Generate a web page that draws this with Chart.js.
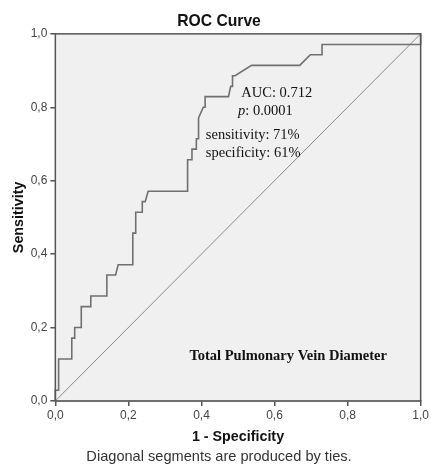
<!DOCTYPE html>
<html>
<head>
<meta charset="utf-8">
<script src="https://cdn.jsdelivr.net/npm/chart.js"></script>
<style>
  html, body { margin: 0; padding: 0; background: #fff; }
  #wrap { width: 432px; height: 474px; }
</style>
</head>
<body>
<div id="wrap"><canvas id="roc-chart"></canvas></div>
<script>
// ROC curve (1 - specificity, sensitivity)
const fprValues = [0, 0, 0.009, 0.009, 0.045, 0.045, 0.053, 0.053, 0.071, 0.071, 0.097, 0.097,
  0.141, 0.141, 0.165, 0.172, 0.212, 0.212, 0.22, 0.22, 0.238, 0.238, 0.246, 0.254,
  0.362, 0.362, 0.374, 0.374, 0.386, 0.386, 0.392, 0.392, 0.405, 0.41, 0.41, 0.474,
  0.48, 0.485, 0.485, 0.492, 0.537, 0.669, 0.698, 0.73, 0.73, 1.0, 1.0];
const tprValues = [0, 0.029, 0.029, 0.114, 0.114, 0.171, 0.171, 0.2, 0.2, 0.257, 0.257, 0.286,
  0.286, 0.343, 0.343, 0.371, 0.371, 0.457, 0.457, 0.514, 0.514, 0.543, 0.543, 0.571,
  0.571, 0.657, 0.657, 0.686, 0.686, 0.714, 0.714, 0.771, 0.8, 0.8, 0.829, 0.829,
  0.857, 0.857, 0.886, 0.886, 0.914, 0.914, 0.943, 0.943, 0.971, 0.971, 1.0];
// reference (chance) line
const refX = [0, 1];
const refY = [0, 1];

const axisTicks = [0, 0.2, 0.4, 0.6, 0.8, 1.0];

// text notes placed in data units: [text, x, y, style]
const notes = [
  ['AUC: 0.712', 0.509, 0.838, 'normal'],
  ['p', 0.5, 0.789, 'italic'],
  ['sensitivity: 71%', 0.412, 0.723, 'normal'],
  ['specificity: 61%', 0.412, 0.676, 'normal'],
  ['Total Pulmonary Vein Diameter', 0.367, 0.123, 'bold']
];

const SANS = '"Liberation Sans", Arial, sans-serif';
const SERIF = '"Liberation Serif", "Times New Roman", serif';

const fmt = v => Number(v).toFixed(1).replace('.', ',');

const frameAndNotes = {
  id: 'frameAndNotes',
  beforeDatasetsDraw(chart) {
    const { ctx, chartArea: a } = chart;
    ctx.save();
    ctx.fillStyle = '#f0f0f0';
    ctx.fillRect(a.left, a.top, a.right - a.left, a.bottom - a.top);
    ctx.restore();
  },
  afterDatasetsDraw(chart) {
    const { ctx, chartArea: a, scales } = chart;
    ctx.save();
    ctx.strokeStyle = '#555';
    ctx.lineWidth = 1.5;
    ctx.strokeRect(a.left, a.top, a.right - a.left, a.bottom - a.top);

    ctx.fillStyle = '#111';
    ctx.textBaseline = 'middle';
    ctx.textAlign = 'left';
    notes.forEach(([text, x, y, style]) => {
      const px = scales.x.getPixelForValue(x);
      const py = scales.y.getPixelForValue(y);
      if (style === 'italic') {
        ctx.font = 'italic 14.5px ' + SERIF;
        ctx.fillText(text, px, py);
        const w = ctx.measureText(text).width;
        ctx.font = '14.5px ' + SERIF;
        ctx.fillText(': 0.0001', px + w, py);
      } else if (style === 'bold') {
        ctx.font = 'bold 14.5px ' + SERIF;
        ctx.fillText(text, px, py);
      } else {
        ctx.font = '14.5px ' + SERIF;
        ctx.fillText(text, px, py);
      }
    });
    ctx.restore();
  }
};

function axisOptions(titleText, titlePadding) {
  return {
    type: 'linear',
    min: 0,
    max: 1,
    afterBuildTicks: scale => { scale.ticks = axisTicks.map(v => ({ value: v })); },
    ticks: {
      callback: v => fmt(v),
      color: '#444',
      padding: 3,
      maxRotation: 0,
      font: { family: SANS, size: 12 }
    },
    grid: {
      drawOnChartArea: false,
      drawTicks: true,
      tickLength: 5,
      color: '#555',
      lineWidth: 1.5
    },
    border: { display: true, color: '#555', width: 1.5 },
    title: {
      display: true,
      text: titleText,
      color: '#111',
      padding: titlePadding,
      font: { family: SANS, size: 14.3, weight: 'bold' }
    }
  };
}

new Chart(document.getElementById('roc-chart'), {
  type: 'scatter',
  data: {
    datasets: [{
      label: 'ROC',
      data: fprValues.map((x, i) => ({ x: x, y: tprValues[i] })),
      showLine: true,
      borderColor: '#707070',
      borderWidth: 1.6,
      pointRadius: 0,
      tension: 0,
      clip: false
    }, {
      label: 'Reference',
      data: refX.map((x, i) => ({ x: x, y: refY[i] })),
      showLine: true,
      borderColor: '#8a8a8a',
      borderWidth: 1,
      pointRadius: 0,
      clip: false
    }]
  },
  options: {
    responsive: true,
    maintainAspectRatio: false,
    animation: false,
    layout: { padding: { top: 0, left: 6, right: 0, bottom: 8.6 } },
    plugins: {
      legend: { display: false },
      tooltip: { enabled: false },
      title: {
        display: true,
        text: 'ROC Curve',
        color: '#111',
        padding: { top: 12, bottom: 3 },
        font: { family: SANS, size: 15.7, weight: 'bold' }
      },
      subtitle: {
        display: true,
        position: 'bottom',
        text: 'Diagonal segments are produced by ties.',
        color: '#333',
        padding: 0,
        font: { family: SANS, size: 14.6, weight: 'normal' }
      }
    },
    scales: {
      x: axisOptions('1 - Specificity', { top: 2, bottom: 2.4 }),
      y: axisOptions('Sensitivity', { top: 4, bottom: 0.5 })
    }
  },
  plugins: [frameAndNotes]
});
</script>
</body>
</html>
